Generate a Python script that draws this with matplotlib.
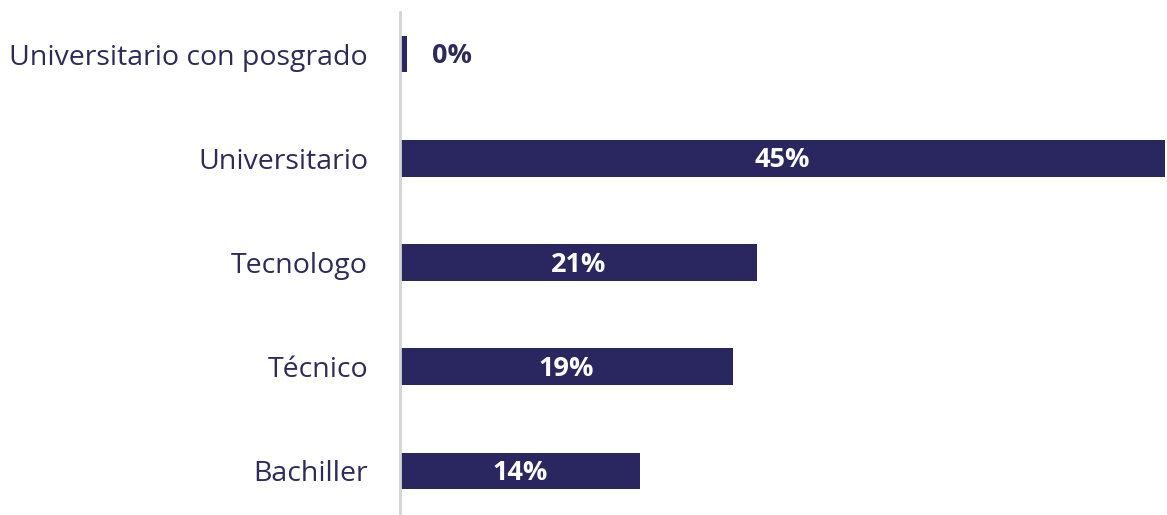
import matplotlib
matplotlib.use("Agg")
import matplotlib.pyplot as plt

categories = ["Bachiller", "Técnico", "Tecnologo", "Universitario", "Universitario con posgrado"]
values = [14.1, 19.6, 21, 45, 0.4]
labels = ["14%", "19%", "21%", "45%", "0%"]

bar_color = "#2a2660"
text_color = "#2e2a5a"
plt.rcParams['font.family'] = ['Open Sans', 'DejaVu Sans']

fig = plt.figure(figsize=(11.67, 5.15), dpi=100)
ax = fig.add_axes([400/1167, 0, 767/1167, 503/515])
y = list(range(len(categories)))
ax.barh(y, values, height=0.35, color=bar_color)
for yi, v, lab in zip(y, values, labels):
    if v < 3:
        ax.text(v + 1.5, yi - 0.02, lab, ha="left", va="center", color=text_color,
                fontsize=19.5, fontweight="bold")
    else:
        ax.text(v / 2, yi - 0.02, lab, ha="center", va="center", color="white",
                fontsize=19.5, fontweight="bold")
ax.set_xlim(0, 45.1)
ax.set_ylim(-0.423, 4.404)
ax.set_yticks(y)
ax.set_yticklabels(categories, fontsize=20.5, color=text_color)
ax.tick_params(axis="y", length=0, pad=23)
ax.set_xticks([])
for s in ["top", "right", "bottom"]:
    ax.spines[s].set_visible(False)
ax.spines["left"].set_color("#d4d4d4")
ax.spines["left"].set_linewidth(2)
fig.savefig("out.png", dpi=100)
